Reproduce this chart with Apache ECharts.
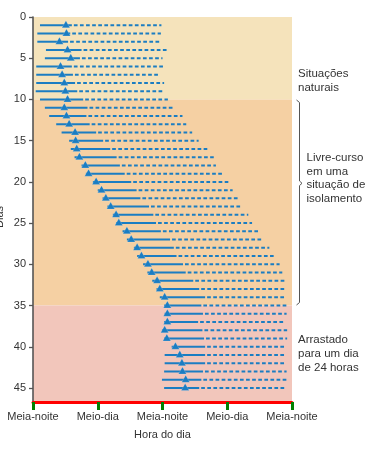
<!DOCTYPE html>
<html>
<head>
<meta charset="utf-8">
<script src="https://cdn.jsdelivr.net/npm/echarts@6/dist/echarts.min.js"></script>
<style>
html,body{margin:0;padding:0;background:#fff;}
#chart{width:376px;height:451px;}
</style>
</head>
<body>
<div id="chart"></div>
<script>
// ---- data ----
const days = [1,2,3,4,5,6,7,8,9,10,11,12,13,14,15,16,17,18,19,20,21,22,23,24,25,26,27,28,29,30,31,32,33,34,35,36,37,38,39,40,41,42,43,44,45];
const activeStart = [1.3,0.8,0.8,2.4,2.2,0.6,0.6,0.6,0.5,1.3,2.2,3.0,4.3,5.3,6.7,7.0,7.7,9.0,9.8,11.1,12.0,12.9,13.8,14.8,15.4,16.6,17.4,18.7,19.3,20.4,21.2,22.1,22.9,23.5,24.3,24.4,24.3,23.9,24.3,25.7,24.4,24.4,24.3,23.9,24.3];
const activeEnd = [7.2,6.9,6.5,9.0,8.7,7.2,7.4,7.8,8.2,9.3,10.1,9.9,10.5,11.7,13.0,14.3,15.5,16.1,17.0,18.2,19.2,19.9,21.5,22.3,22.8,23.7,25.4,26.1,26.6,27.8,28.3,29.7,30.8,31.9,31.2,31.5,30.6,31.4,31.7,31.9,31.9,31.9,31.5,31.2,30.8];
const restEnd = [23.8,23.7,23.7,24.8,24.0,24.1,23.5,24.3,24.2,25.0,26.0,27.7,28.4,29.5,30.7,32.3,33.5,33.9,35.1,36.2,37.0,38.0,38.5,39.9,40.6,41.7,42.4,43.8,44.6,45.7,46.2,46.7,46.7,46.9,47.0,47.0,46.7,47.1,47.1,46.9,46.9,46.7,47.0,47.0,46.7];
const markerHour = [6.1,6.2,4.9,6.4,7.0,5.1,5.4,5.8,6.0,6.4,5.8,6.2,6.7,7.8,7.9,8.1,8.6,9.7,10.3,11.7,12.7,13.5,14.4,15.4,15.9,17.4,18.2,19.3,20.1,21.3,22.0,23.0,23.5,24.4,24.9,24.9,24.9,24.4,24.8,26.4,27.2,27.6,27.7,28.3,28.2];
const xTickValues = [0,12,24,36,48];
const xTickLabels = ['Meia-noite','Meio-dia','Meia-noite','Meio-dia','Meia-noite'];
const yTickValues = [0,5,10,15,20,25,30,35,40,45];
const phaseBounds = [0,10,35,46.7];
const phaseNames = ['Situações\nnaturais','Livre-curso\nem uma\nsituação de\nisolamento','Arrastado\npara um dia\nde 24 horas'];

const BLUE = '#1b7dc2';
const AXIS = '#555';
const FONT = 'Liberation Sans, Arial, Helvetica, sans-serif';
const phaseColors = ['#f5e3bb','#f5d0a3','#f2c6bb'];

const rowData = days.map((d,i)=>[d, activeStart[i], activeEnd[i], restEnd[i]]);
const markerData = days.map((d,i)=>[markerHour[i], d]);
const Y_MAX = phaseBounds[3];

const chart = echarts.init(document.getElementById('chart'), null, {renderer:'canvas'});
chart.setOption({
  animation:false,
  grid:{left:33, right:84, top:17, bottom:49},
  xAxis:{
    type:'value', min:0, max:48, interval:12, position:'bottom', z:10,
    axisLine:{show:true, onZero:false, lineStyle:{color:'red', width:3}},
    axisTick:{show:true, length:8, lineStyle:{color:'green', width:3}},
    splitLine:{show:false},
    axisLabel:{fontSize:11, color:'#333', fontFamily:FONT, margin:9,
      formatter:(v)=>xTickLabels[xTickValues.indexOf(v)] || ''},
    name:'Hora do dia', nameLocation:'middle', nameGap:27,
    nameTextStyle:{fontSize:11, color:'#333', fontFamily:FONT}
  },
  yAxis:{
    type:'value', inverse:true, min:0, max:Y_MAX, z:10,
    axisLine:{show:true, onZero:false, lineStyle:{color:AXIS, width:1.6}},
    axisTick:{show:true, length:4, customValues:yTickValues, lineStyle:{color:AXIS, width:1.3}},
    splitLine:{show:false},
    axisLabel:{fontSize:11, color:'#333', fontFamily:FONT, margin:7, customValues:yTickValues}
  },
  graphic:[
    {type:'text', left:-6, top:206, rotation:Math.PI/2, style:{text:'Dias', fontSize:11, fill:'#333', fontFamily:FONT}},
    {type:'text', left:298, top:67, style:{text:phaseNames[0], fontSize:11.5, lineHeight:14, fill:'#333', fontFamily:FONT}},
    {type:'text', left:306.5, top:151, style:{text:phaseNames[1], fontSize:11.5, lineHeight:13.7, fill:'#333', fontFamily:FONT}},
    {type:'text', left:298, top:333, style:{text:phaseNames[2], fontSize:11.5, lineHeight:14, fill:'#333', fontFamily:FONT}},
    {type:'polyline', shape:{points:[[296.5,100],[299.5,102.5],[299.5,181],[302,183.3],[299.5,185.6],[299.5,302.5],[296.5,305]]},
     style:{stroke:AXIS, lineWidth:1, fill:null}}
  ],
  series:[
    {
      type:'custom',
      data:[0,1,2].map(i=>[phaseBounds[i], phaseBounds[i+1], i]),
      encode:{y:[0,1]},
      silent:true,
      z:1,
      renderItem:(params, api)=>{
        const a = api.coord([0, api.value(0)]);
        const b = api.coord([48, api.value(1)]);
        return {type:'rect', shape:{x:a[0], y:a[1], width:b[0]-a[0], height:b[1]-a[1]},
          style:{fill:phaseColors[api.value(2)]}};
      }
    },
    {
      type:'custom',
      data:rowData,
      encode:{x:[1,2,3], y:0},
      z:2,
      renderItem:(params, api)=>{
        const d = api.value(0);
        const s = api.coord([api.value(1), d]);
        const e = api.coord([api.value(2), d]);
        const f = api.coord([api.value(3), d]);
        return {type:'group', children:[
          {type:'line', shape:{x1:s[0], y1:s[1], x2:e[0], y2:e[1]}, style:{stroke:BLUE, lineWidth:2}},
          {type:'line', shape:{x1:e[0]+2, y1:e[1], x2:f[0], y2:f[1]}, style:{stroke:BLUE, lineWidth:2, lineDash:[3.7,2.4]}}
        ]};
      }
    },
    {
      type:'scatter',
      data:markerData,
      symbol:'triangle',
      symbolSize:[8,7],
      symbolOffset:[0,-1],
      itemStyle:{color:BLUE, opacity:1, borderColor:'rgba(255,255,255,0.35)', borderWidth:0.5},
      z:3
    }
  ]
});
</script>
</body>
</html>
